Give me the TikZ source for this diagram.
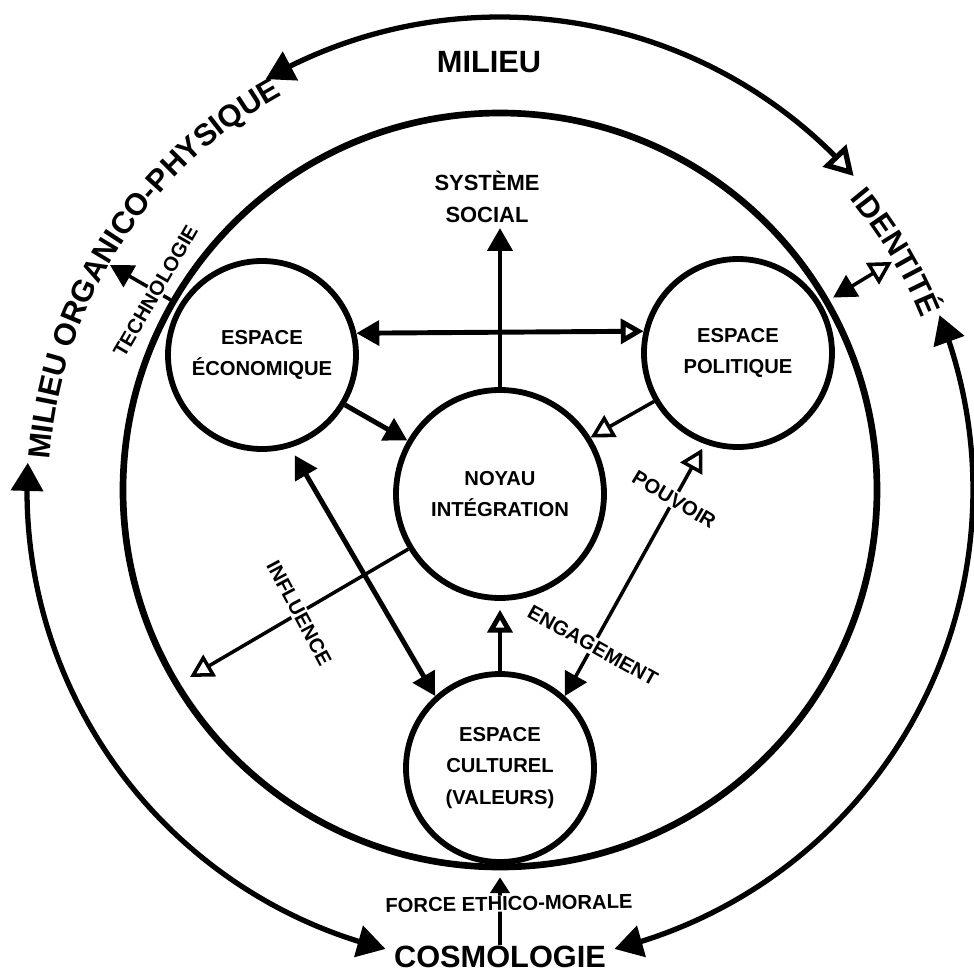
\documentclass[tikz,border=0pt]{standalone}
\usepackage{fontspec}
\setmainfont{Liberation Sans}
\usepackage{tikz}
\usetikzlibrary{positioning,arrows.meta,bending,decorations.text}
\newcommand{\ringfont}{\fontsize{11.5}{18}\selectfont\bfseries}
\newcommand{\titlefont}{\fontsize{17.5}{20}\selectfont\bfseries}
\tikzset{
	fullhead/.tip={Triangle[length=13pt,width=14pt]},
	openhead/.tip={Triangle[open,length=13pt,width=14pt]},
	smallhead/.tip={Triangle[length=9pt,width=11pt]},
	bighead/.tip={Triangle[length=16pt,width=18pt]},
	bigopen/.tip={Triangle[open,length=16pt,width=18pt]},
	ringnode/.style={circle,draw,line width=3.3pt,minimum size=3.76cm,align=center,font=\ringfont},
	thickarrow/.style={line width=2.8pt},
	thinarrow/.style={line width=2pt},
	rimarrow/.style={line width=3pt},
	wordlabel/.style={fill=white,inner sep=1pt,font=\ringfont}
}

\begin{document}
\begin{tikzpicture}
		\useasboundingbox (-10,-9.76) rectangle (9.48,9.8);
		\node [circle,draw,line width=3.8pt,minimum size=15.08cm] (soc) at (0,0) {};
		\node [ringnode] (eco) at (-4.76,2.70) {ESPACE\\ÉCONOMIQUE};
		\node [ringnode] (pol) at (4.76,2.74) {ESPACE\\POLITIQUE};
		\node [ringnode,minimum size=4.16cm] (noy) at (0,-0.08) {NOYAU\\INTÉGRATION};
		\node [ringnode] (cul) at (0,-5.56) {ESPACE\\CULTUREL\\(VALEURS)};
		\node [align=center,font=\fontsize{12.5}{18}\selectfont\bfseries,anchor=south,inner sep=3pt] (sys) at (-0.26,5.24) {SYSTÈME\\SOCIAL};
		\node [font=\titlefont] (mil) at (-0.22,8.56) {MILIEU};
		\node [font=\titlefont,inner sep=0pt] (cos) at (0,-9.33) {COSMOLOGIE};
		\coordinate (tech) at (-7.80,4.50);
		\coordinate (idt) at (30.2:9.07cm);
		\coordinate (infl) at (-6.20,-3.74);

		\draw [rimarrow,bigopen-bighead] (41.6:9.46cm) arc [start angle=41.6,end angle=119.7,radius=9.46cm];
		\draw [rimarrow,bighead-bighead] (176.7:9.46cm) arc [start angle=176.7,end angle=256,radius=9.46cm];
		\draw [rimarrow,bighead-bighead] (21.7:9.46cm) arc [start angle=21.7,end angle=-76,radius=9.46cm];
		\path [decorate,decoration={text along path,text align=center,text={|\titlefont|MILIEU ORGANICO-PHYSIQUE}}] (182:9.02cm) arc [start angle=182,end angle=113,radius=9.02cm];
		\path [decorate,decoration={text along path,text align=center,text={|\titlefont|IDENTITÉ}}] (50:9.1cm) arc [start angle=50,end angle=12,radius=9.1cm];

		\draw [thickarrow,-fullhead] (noy.north) -- (noy.north |- sys.south);
		\draw [thickarrow,fullhead-openhead] (eco.13) -- (pol.167);
		\draw [thickarrow,-fullhead] (eco.-31) -- (noy.150);
		\draw [thinarrow,-openhead] (pol.210) -- (noy.32);
		\draw [thickarrow,fullhead-fullhead,shorten <=5pt] (eco.-73) -- (cul.132);
		\draw [thickarrow,-openhead,shorten >=5pt] (cul.north) -- (noy.south);
		\draw [thinarrow,-openhead] (noy.211) -- node [wordlabel,rotate=-62] {INFLUENCE} (infl);
		\draw [thinarrow,openhead-fullhead,shorten <=3pt] (pol.250) -- node [wordlabel,pos=.22,rotate=-31] {POUVOIR} node [wordlabel,pos=.8,rotate=-29] {ENGAGEMENT} (cul.48);
		\draw [thinarrow,-fullhead] (soc.150) -- node [wordlabel,pos=.25,rotate=60] {TECHNOLOGIE} (tech);
		\draw [thinarrow,fullhead-openhead,shorten <=2.5pt] (soc.30) -- (idt);
		\draw [thinarrow,-smallhead,shorten >=4pt] (cos.north) -- (soc.south);
		\node [wordlabel,inner sep=0.5pt,rotate=1] (frc) at (0.18,-8.27) {FORCE ETHICO-MORALE};
\end{tikzpicture}
\end{document}
